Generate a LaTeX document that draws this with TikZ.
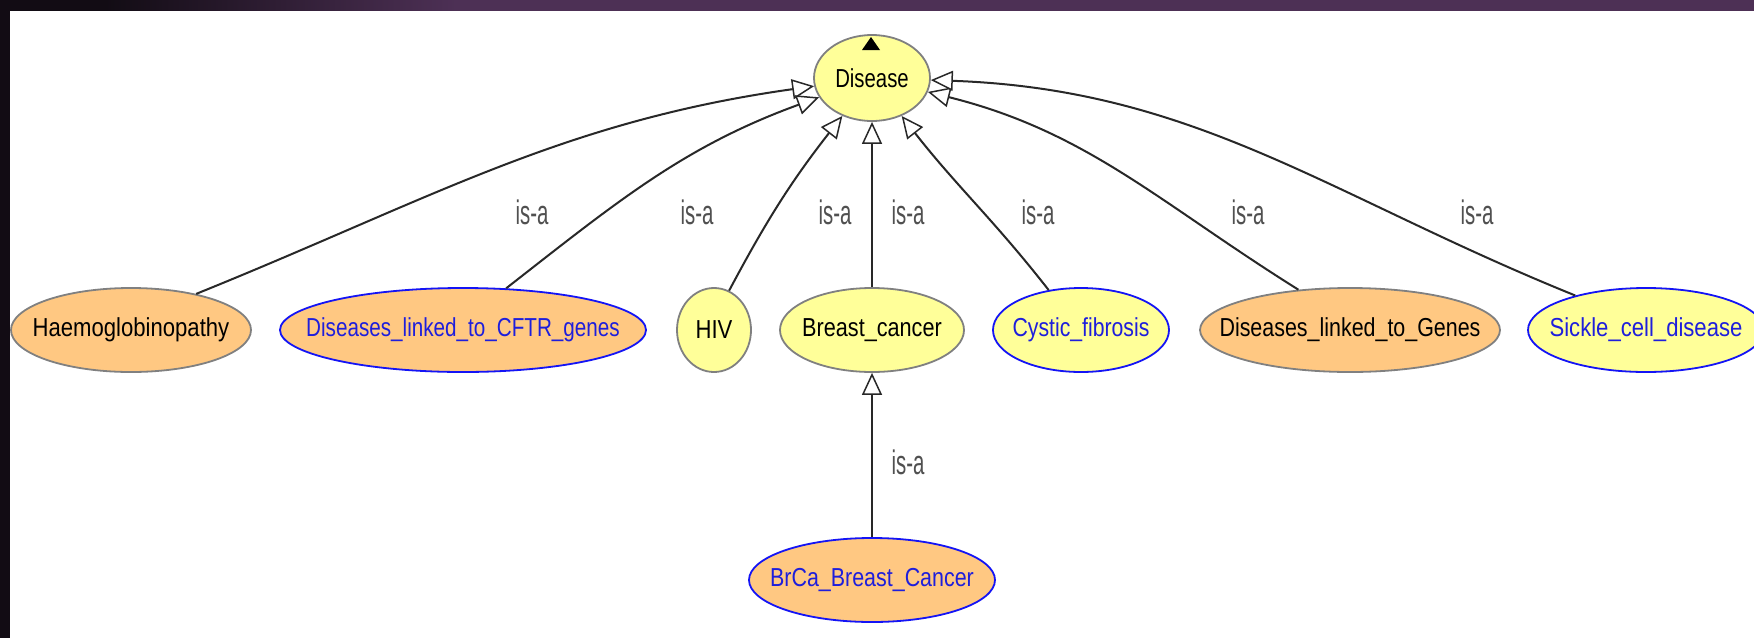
\documentclass[tikz,border=0pt]{standalone}
\usepackage{fontspec}
\usetikzlibrary{shapes.geometric,arrows.meta}
\newfontfamily\nodefont[FakeStretch=0.85]{Liberation Sans}
\newfontfamily\isafont[FakeStretch=0.6]{Liberation Sans}
\definecolor{yellowfill}{RGB}{255,255,153}
\definecolor{orangefill}{RGB}{255,200,130}
\definecolor{bluetext}{RGB}{30,30,220}
\definecolor{blueline}{RGB}{20,20,245}
\definecolor{greyline}{RGB}{128,128,128}
\definecolor{edgecol}{RGB}{40,40,40}
\definecolor{isagrey}{RGB}{80,80,80}
\definecolor{bardark}{RGB}{18,12,20}
\definecolor{barpurple}{RGB}{77,48,85}
\pgfdeclarehorizontalshading{titlebar}{100bp}{color(0bp)=(bardark); color(25bp)=(bardark);
  color(28bp)=(bardark); color(38bp)=(barpurple); color(100bp)=(barpurple)}
% class name, centred, with a horizontal squeeze factor
\newcommand{\cname}[2][1]{\makebox[0pt]{\scalebox{#1}[1]{#2}}}
\begin{document}
\begin{tikzpicture}[x=1pt,y=-1pt,
  cls/.style={ellipse, line width=1.8pt, inner sep=0pt, minimum height=84pt,
    font=\nodefont\fontsize{26}{26}\selectfont},
  yel/.style={cls, fill=yellowfill},
  org/.style={cls, fill=orangefill},
  plain/.style={draw=greyline, text=black},
  linked/.style={draw=blueline, text=bluetext},
  isa/.style={draw=edgecol, line width=2pt,
    -{Triangle[fill=white, line width=1.5pt, length=22pt, width=20pt]}},
  lab/.style={font=\isafont\fontsize{34}{34}\selectfont, text=isagrey}]
\useasboundingbox (0,0) rectangle (1754,638);
% frame
\fill[white] (0,0) rectangle (1754,638);
\shade[shading=titlebar] (0,0) rectangle (1754,10);
\fill[bardark] (0,0) rectangle (10,638);

% classes
\node[yel, plain, minimum width=116pt, minimum height=86pt] (disease) at (872,78) {\cname[0.92]{Disease}};
\node[org, plain, minimum width=240pt] (haemo) at (131,330) {\cname{Haemoglobinopathy}};
\node[org, linked, minimum width=366pt] (cftr) at (463,330) {\cname[0.935]{Diseases\_linked\_to\_CFTR\_genes}};
\node[yel, plain, minimum width=74pt] (hiv) at (714,330) {\cname{HIV}};
\node[yel, plain, minimum width=184pt] (breast) at (872,330) {\cname[0.98]{Breast\_cancer}};
\node[yel, linked, minimum width=176pt] (cystic) at (1081,330) {\cname[0.96]{Cystic\_fibrosis}};
\node[org, plain, minimum width=300pt] (genes) at (1350,330) {\cname[0.97]{Diseases\_linked\_to\_Genes}};
\node[yel, linked, minimum width=236pt] (sickle) at (1646,330) {\cname{Sickle\_cell\_disease}};
\node[org, linked, minimum width=246pt] (brca) at (872,580) {\cname[0.97]{BrCa\_Breast\_Cancer}};

% expand marker on the root class
\fill[black] (862,50) -- (880,50) -- (871,37) -- cycle;

% is-a links
\draw[isa] (haemo.29) to[out=22, in=188] (disease);
\draw[isa] (cftr.44) to[out=38, in=200] (disease);
\draw[isa] (hiv.69) to[out=62, in=232] (disease);
\draw[isa] (breast.north) -- (disease.south);
\draw[isa] (cystic.129) to[out=128, in=-52] (disease);
\draw[isa] (genes.142) to[out=148, in=-14] (disease);
\draw[isa] (sickle.154) to[out=158, in=-2] (disease);
\draw[isa] (brca.north) -- (breast.south);

% link labels
\node[lab] (l1) at (532,212) {is-a};
\node[lab] (l2) at (697,212) {is-a};
\node[lab] (l3) at (835,212) {is-a};
\node[lab] (l4) at (908,212) {is-a};
\node[lab] (l5) at (1038,212) {is-a};
\node[lab] (l6) at (1248,212) {is-a};
\node[lab] (l7) at (1477,212) {is-a};
\node[lab] (l8) at (908,462) {is-a};
\end{tikzpicture}
\end{document}
